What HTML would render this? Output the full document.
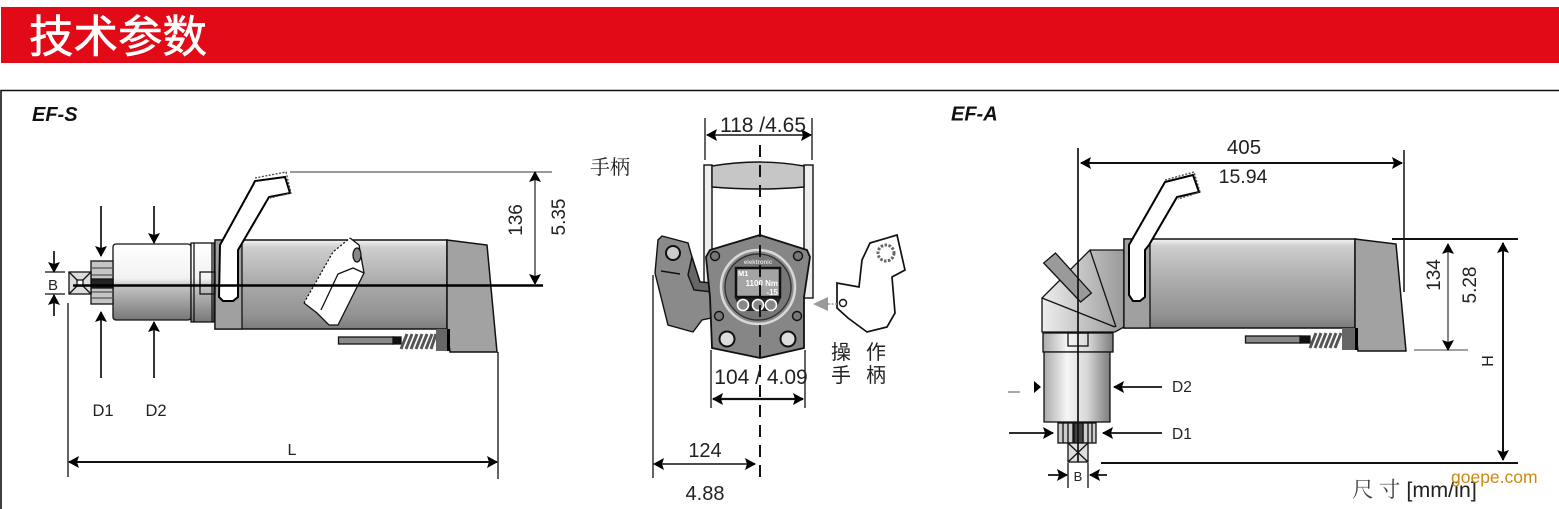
<!DOCTYPE html>
<html><head><meta charset="utf-8"><style>
html,body{margin:0;padding:0;background:#fff;width:1559px;height:509px;overflow:hidden}
svg{display:block}
text{font-family:"Liberation Sans","Noto Sans CJK SC",sans-serif;fill:#222}
</style></head><body>
<svg width="1559" height="509" viewBox="0 0 1559 509" xmlns="http://www.w3.org/2000/svg">
<defs>
<marker id="a" markerUnits="userSpaceOnUse" markerWidth="12" markerHeight="12" refX="10" refY="6" orient="auto-start-reverse"><path d="M0 0L11 6L0 12L2 6Z" fill="#000"/></marker>
<linearGradient id="body" x1="0" y1="0" x2="0" y2="1"><stop offset="0" stop-color="#f4f4f4"/><stop offset=".08" stop-color="#cfcfcf"/><stop offset=".45" stop-color="#adadad"/><stop offset=".85" stop-color="#929292"/><stop offset="1" stop-color="#7c7c7c"/></linearGradient>
<linearGradient id="cyl" x1="0" y1="0" x2="0" y2="1"><stop offset="0" stop-color="#fff"/><stop offset=".45" stop-color="#f2f2f2"/><stop offset=".55" stop-color="#c4c4c4"/><stop offset="1" stop-color="#777"/></linearGradient>
<linearGradient id="cylv" x1="0" y1="0" x2="1" y2="0"><stop offset="0" stop-color="#aaa"/><stop offset=".35" stop-color="#f6f6f6"/><stop offset=".65" stop-color="#d8d8d8"/><stop offset="1" stop-color="#7c7c7c"/></linearGradient>
<linearGradient id="elb" x1="0" y1="0" x2="1" y2="0"><stop offset="0" stop-color="#eee"/><stop offset=".6" stop-color="#bbb"/><stop offset="1" stop-color="#999"/></linearGradient>
</defs>

<rect x="1" y="7" width="1558" height="56" fill="#e30a17"/>
<text x="29" y="52" font-size="44.500" stroke="#fff" stroke-width=".6" style="fill:#fff">技术参数</text>
<path d="M1 509V90.500H1559" fill="none" stroke="#111" stroke-width="1.600"/>
<text x="32" y="121" font-size="20" font-weight="bold" font-style="italic" style="fill:#111">EF-S</text>
<text x="951" y="120.500" font-size="20" font-weight="bold" font-style="italic" style="fill:#111">EF-A</text>

<!-- EF-S -->
<g stroke="#111" stroke-width="1.300">
<rect x="215" y="240" width="232" height="89" fill="url(#body)" stroke-width="1.500"/>
<path d="M447 240L487 245L497 352H450L447 329Z" fill="#a2a2a2" stroke-width="1.500"/>
<rect x="215" y="240" width="27" height="89" fill="#a0a0a0"/>
<rect x="113" y="244" width="78" height="76" rx="3" fill="url(#cyl)"/>
<rect x="191" y="243" width="23" height="79" fill="url(#cyl)"/>
<path d="M194 243V322M212 243V322"/>
<rect x="200" y="272" width="15" height="22" fill="none"/>
<rect x="91" y="261" width="22" height="43" fill="#c4c4c4"/>
<path d="M91 268H113M91 275H113M91 292H113M91 298H113" stroke="#555"/>
<rect x="91" y="279" width="22" height="9" fill="#222"/>
<rect x="69" y="272" width="22" height="22" fill="#ddd"/>
<path d="M69 272L91 294M91 272L69 294"/>
<rect x="77" y="280" width="6" height="6" fill="#fff"/>
<path d="M220 245L253 185L255 181L285 177L290 193L269 197L241 245L238 250V297L233 301H223L219 297Z" fill="#fff" stroke="#000" stroke-width="2"/>
<path d="M255 178L286 172L291 193L270 198" fill="none" stroke="#444" stroke-dasharray="2 1.500"/>
<path d="M304 303L333 252L350 238L359 245L364 273L338 325H329L317 313Z" fill="#fff" stroke="none"/>
<path d="M304 303L333 252L350 238" fill="none" stroke-dasharray="2 2"/>
<path d="M350 238L359 245L364 273L338 325H329L317 313L304 303" fill="none"/>
<path d="M321 310L338 274L353 268L364 273" fill="none"/>
<ellipse cx="357" cy="255" rx="4" ry="7" fill="#888"/>
<rect x="338.500" y="337" width="55" height="7" fill="#8a8a8a"/>
<rect x="393" y="337" width="8" height="7" fill="#111"/>
<path d="M401 349L407 334M406 349L412 334M411 349L417 334M416 349L422 334M421 349L427 334M426 349L432 334M431 349L436 334" stroke-width="3" stroke="#555"/>
<rect x="436" y="329" width="13" height="22" fill="#666" stroke="none"/>
<rect x="447" y="329" width="3" height="22" fill="#000" stroke="none"/>
</g>
<path d="M73 285.500H543" stroke="#000" stroke-width="2.600"/>
<path d="M290 172H552" stroke="#333" stroke-width="1"/>
<path d="M535 172V284" stroke="#222" stroke-width="1.200" marker-start="url(#a)" marker-end="url(#a)"/>
<text transform="translate(522 220) rotate(-90)" text-anchor="middle" font-size="19">136</text>
<text transform="translate(565 217) rotate(-90)" text-anchor="middle" font-size="19">5.35</text>
<g stroke="#111" stroke-width="1.700" marker-end="url(#a)">
<path d="M101 206V256"/><path d="M154 206V243"/><path d="M101 378V312"/><path d="M154 378V322"/><path d="M54 251V272"/><path d="M54 316V295"/>
</g>
<g stroke="#111" stroke-width="1.300">
<path d="M45 272H65M45 294H65M68 303V477M498 352V479"/>
<path d="M69 462H497" stroke-width="2" marker-start="url(#a)" marker-end="url(#a)"/>
</g>
<text x="53" y="290" text-anchor="middle" font-size="15">B</text>
<text x="103" y="416" text-anchor="middle" font-size="16.500">D1</text>
<text x="156" y="416" text-anchor="middle" font-size="16.500">D2</text>
<text x="292" y="455" text-anchor="middle" font-size="16">L</text>

<!-- Center -->
<text x="590" y="174" font-size="20" style="font-family:'Liberation Serif','Noto Serif CJK SC',serif">手柄</text>
<g stroke="#111" stroke-width="1.400">
<rect x="704" y="165" width="8" height="128" fill="#eee"/>
<rect x="804" y="165" width="9" height="133" fill="#eee"/>
<path d="M712 166Q760 158 804 166V187Q760 191 712 187Z" fill="#c6c6c6"/>
<path d="M662 236L688 243L692 257L700 282L712 283L711 318L702 320L693 332L668 325L655 273L658 240Z" fill="#8a8a8a"/>
<path d="M692 257L700 282L712 283V292L694 290L688 275Z" fill="#666"/>
<circle cx="673" cy="253" r="7" fill="#ccc" stroke-width="2"/>
<path d="M661 271L680 274"/>
<path d="M760 235L807 250L810 257L804 297V348L760 358L712 348L710 297L706 257L710 250Z" fill="#868686" stroke-width="1.800"/>
<circle cx="758" cy="287" r="37" fill="#8a8a8a" stroke="#d8d8d8" stroke-width="2.500"/>
<circle cx="758" cy="287" r="33" fill="#777" stroke="#333"/>
<rect x="736" y="268" width="44" height="29" fill="#a4a4a4" stroke="#111" stroke-width="2.500"/>
<path d="M735 298H781L775 311H741Z" fill="#222" stroke="none"/>
<g fill="#888" stroke="#fff" stroke-width="1.600"><circle cx="743" cy="305" r="5.500"/><circle cx="758" cy="305" r="5.500"/><circle cx="771" cy="305" r="5.500"/></g>
<g fill="#777"><circle cx="715" cy="256" r="4.500"/><circle cx="798" cy="256" r="4.500"/><circle cx="719" cy="316" r="4.500"/><circle cx="797" cy="316" r="4.500"/></g>
<g fill="#ddd" stroke-width="2"><circle cx="727" cy="339" r="7.500"/><circle cx="788" cy="339" r="7.500"/></g>
<path d="M870 243L897 235L905 270L892 277L895 313L887 327L867 332L848 318L837 308V283L859 287L862 260Z" fill="#fff" stroke-width="1.700"/>
<circle cx="886" cy="253" r="8" fill="none" stroke="#666" stroke-width="3" stroke-dasharray="2.500 1.500"/>
<circle cx="843" cy="303" r="3.500" fill="#fff"/>
</g>
<text x="738" y="276" font-size="7.500" font-weight="bold" style="fill:#fff">M1</text>
<text x="778" y="286" text-anchor="end" font-size="8" font-weight="bold" style="fill:#fff">1100 Nm</text>
<text x="778" y="295" text-anchor="end" font-size="8" font-weight="bold" style="fill:#fff">-15</text>
<text x="758" y="264" text-anchor="middle" font-size="6" font-weight="bold" style="fill:#ddd">elektronic</text>
<path d="M813 304L828 297V311Z" fill="#999"/>
<path d="M828 304H838" stroke="#999" stroke-width="1.500" stroke-dasharray="2 1.500"/>
<path d="M760 145V480" stroke="#111" stroke-width="2" stroke-dasharray="12 8"/>
<g stroke="#111" stroke-width="1.300">
<path d="M705 118V160M812 118V160M711 350V408M805 350V408M653 275V478"/>
<path d="M707 135H811" stroke-width="1.500" marker-start="url(#a)" marker-end="url(#a)"/>
<path d="M654 464H755" stroke-width="1.500" marker-start="url(#a)" marker-end="url(#a)"/>
<path d="M713 399H803" stroke-width="2.200" marker-start="url(#a)" marker-end="url(#a)"/>
</g>
<text x="763" y="132" text-anchor="middle" font-size="21">118 /4.65</text>
<text x="761" y="384" text-anchor="middle" font-size="21">104 / 4.09</text>
<text x="705" y="457" text-anchor="middle" font-size="20">124</text>
<text x="705" y="500" text-anchor="middle" font-size="20">4.88</text>
<g font-size="20" style="font-family:'Liberation Serif','Noto Serif CJK SC',serif">
<text x="831" y="359">操</text><text x="866" y="359">作</text>
<text x="831" y="382">手</text><text x="866" y="382">柄</text>
</g>

<!-- EF-A -->
<g stroke="#111" stroke-width="1.300">
<path d="M1090 250H1124V327L1115 332H1042V298Z" fill="url(#elb)"/>
<path d="M1090 250L1116 327M1042 298L1115 327"/>
<path d="M1055.500 253L1091.400 293L1080.600 302L1043.700 263Z" fill="#9a9a9a"/>
<rect x="1124" y="239" width="231" height="89" fill="url(#body)" stroke-width="1.500"/>
<rect x="1124" y="239" width="26" height="89" fill="#a0a0a0"/>
<path d="M1355 239L1396 244L1406 351H1358L1355 328Z" fill="#a2a2a2" stroke-width="1.500"/>
<path d="M1129 245L1165 182L1193 175L1199 192L1177 197L1149 245L1145 250V297L1140 301H1133L1129 295Z" fill="#fff" stroke="#000" stroke-width="2"/>
<path d="M1165 180L1194 172L1200 192L1178 199" fill="none" stroke="#444" stroke-dasharray="2 1.500"/>
<rect x="1043" y="333" width="70" height="19" fill="url(#cylv)"/>
<rect x="1044" y="352" width="66" height="70" fill="url(#cylv)"/>
<rect x="1068" y="333" width="20" height="13" fill="none"/>
<rect x="1058" y="423" width="38" height="20" fill="#ccc"/>
<path d="M1063 423V443M1068 423V443M1073 423V443M1083 423V443M1088 423V443M1092 423V443"/>
<rect x="1074" y="423" width="9" height="20" fill="#444"/>
<rect x="1068" y="443" width="20" height="19" fill="#ddd"/>
<path d="M1068 443L1088 462M1088 443L1068 462"/>
<rect x="1245.500" y="336" width="55" height="7" fill="#8a8a8a"/>
<rect x="1300" y="336" width="10" height="7" fill="#111"/>
<path d="M1310 348L1316 333M1315 348L1321 333M1320 348L1326 333M1325 348L1331 333M1330 348L1336 333M1335 348L1341 333" stroke-width="3" stroke="#555"/>
<rect x="1342" y="328" width="13" height="22" fill="#666" stroke="none"/>
<rect x="1355" y="328" width="3" height="22" fill="#000" stroke="none"/>
</g>
<g stroke="#111" stroke-width="1.700">
<path d="M1078 148V462"/>
<path d="M1081 163H1402" stroke-width="2" marker-start="url(#a)" marker-end="url(#a)"/>
<path d="M1404 150V292" stroke-width="1.500"/>
<path d="M1392 239H1518M1101 463H1518" stroke-width="2"/>
<path d="M1414 350H1468" stroke-width="1" stroke="#444"/>
<path d="M1448 244V350" stroke-width="1.200" stroke="#333" marker-start="url(#a)" marker-end="url(#a)"/>
<path d="M1503 243V460" stroke-width="2" marker-start="url(#a)" marker-end="url(#a)"/>
<g marker-end="url(#a)">
<path d="M1162 387H1114"/><path d="M1162 433H1103"/><path d="M1009 433H1053"/><path d="M1048 475H1067"/><path d="M1107 475H1090"/>
</g>
<path d="M1068 463V488M1088 463V488" stroke-width="1.300"/>
<path d="M1008 392H1020" stroke-width="1" stroke="#555"/>
</g>
<path d="M1034 381L1041 387L1034 393Z" fill="#000"/>
<text x="1244" y="154" text-anchor="middle" font-size="20.500">405</text>
<text x="1243" y="183" text-anchor="middle" font-size="19.500">15.94</text>
<text transform="translate(1440 275) rotate(-90)" text-anchor="middle" font-size="19">134</text>
<text transform="translate(1476 285) rotate(-90)" text-anchor="middle" font-size="19">5.28</text>
<text transform="translate(1493 361) rotate(-90)" text-anchor="middle" font-size="16">H</text>
<text x="1172" y="392" font-size="15.500">D2</text>
<text x="1172" y="439" font-size="15.500">D1</text>
<text x="1078" y="481" text-anchor="middle" font-size="13">B</text>
<text x="1352" y="497" font-size="21.500"><tspan style="font-family:'Liberation Serif','Noto Serif CJK SC',serif;fill:#444">尺 寸</tspan> [mm/in]</text>
<text x="1451" y="483" font-size="17.500" style="fill:#cc8a12">goepe.com</text>
</svg>
</body></html>
